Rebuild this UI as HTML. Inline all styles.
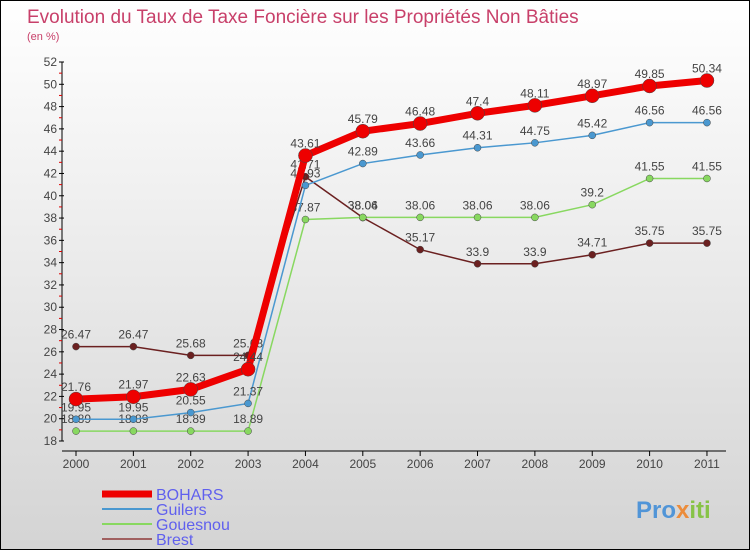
<!DOCTYPE html>
<html><head><meta charset="utf-8"><style>
body{margin:0}
#c{width:750px;height:550px;position:relative;box-sizing:border-box;border:1px solid #000;background:linear-gradient(#ffffff,#d4d4d4);font-family:"Liberation Sans",sans-serif;overflow:hidden}
</style></head><body>
<div id="c">
<svg width="750" height="550" style="position:absolute;left:0;top:0" id="svg">
<text x="26" y="22" font-size="19" fill="#c8406a">Evolution du Taux de Taxe Foncière sur les Propriétés Non Bâties</text>
<text x="26" y="39" font-size="11" fill="#c8406a">(en %)</text>
<g id="g"></g>
<text x="635" y="517" font-size="24" font-weight="bold" fill="#3a8ad8" opacity="0.85">Pro<tspan fill="#f08020">x</tspan><tspan fill="#7ac030">iti</tspan></text>
</svg>
</div>
<script>
const years=["2000","2001","2002","2003","2004","2005","2006","2007","2008","2009","2010","2011"];
const yTicks=[18,20,22,24,26,28,30,32,34,36,38,40,42,44,46,48,50,52];
const bohars=[21.76,21.97,22.63,24.44,43.61,45.79,46.48,47.4,48.11,48.97,49.85,50.34];
const guilers=[19.95,19.95,20.55,21.37,40.93,42.89,43.66,44.31,44.75,45.42,46.56,46.56];
const gouesnou=[18.89,18.89,18.89,18.89,37.87,38.06,38.06,38.06,38.06,39.2,41.55,41.55];
const brest=[26.47,26.47,25.68,25.68,41.71,38.04,35.17,33.9,33.9,34.71,35.75,35.75];
const NS="http://www.w3.org/2000/svg",g=document.getElementById('g');
const X=i=>75+i*57.36, Y=v=>440-(v-18)*(379/34);
function mk(t,a,p){const e=document.createElementNS(NS,t);for(const k in a)e.setAttribute(k,a[k]);(p||g).appendChild(e);return e;}
let ax=mk('line',{x1:61,y1:Y(52),x2:61,y2:Y(18),stroke:'#000'});


let xx=mk('line',{x1:61,y1:450,x2:725,y2:450,stroke:'#000'});


yTicks.forEach(v=>{mk('line',{x1:58,y1:Y(v),x2:63,y2:Y(v),stroke:'#000'});
if(v<52)mk('line',{x1:58,y1:Y(v+1),x2:61,y2:Y(v+1),stroke:'#d00'});
const t=mk('text',{x:56,y:Y(v)+4,'font-size':12,fill:'#444','text-anchor':'end'});t.textContent=v;

});
years.forEach((y,i)=>{mk('line',{x1:X(i),y1:450,x2:X(i),y2:455,stroke:'#000'});
const t=mk('text',{x:X(i),y:467,'font-size':12,fill:'#444','text-anchor':'middle'});t.textContent=y;

});
const series=[[brest,'#6b2020',1.5,3.5,'brest'],[gouesnou,'#88d860',1.5,3.5,'gouesnou'],[guilers,'#4a98d0',1.5,3.5,'guilers'],[bohars,'#ee0000',7,7,'bohars']];
series.forEach(([d,c,w,r,n])=>{
const p=mk('polyline',{points:d.map((v,i)=>X(i)+','+Y(v)).join(' '),fill:'none',stroke:c,'stroke-width':w});


d.forEach((v,i)=>{const m=mk('circle',{cx:X(i),cy:Y(v),r:r,fill:c,stroke:'#444','stroke-width':0.5});


const t=mk('text',{x:X(i),y:Y(v)-8,'font-size':12,fill:'#444','text-anchor':'middle'});t.textContent=v;

});});
const leg=[['BOHARS','#ee0000',7],['Guilers','#4a98d0',2],['Gouesnou','#88d860',2],['Brest','#a06060',2]];
leg.forEach(([n,c,w],i)=>{const y=493+i*15;
const l=mk('line',{x1:101,y1:y,x2:151,y2:y,stroke:c,'stroke-width':w});


const t=mk('text',{x:155,y:y+6,'font-size':16,fill:'#6060ee'});t.textContent=n;

});
</script>
</body></html>
